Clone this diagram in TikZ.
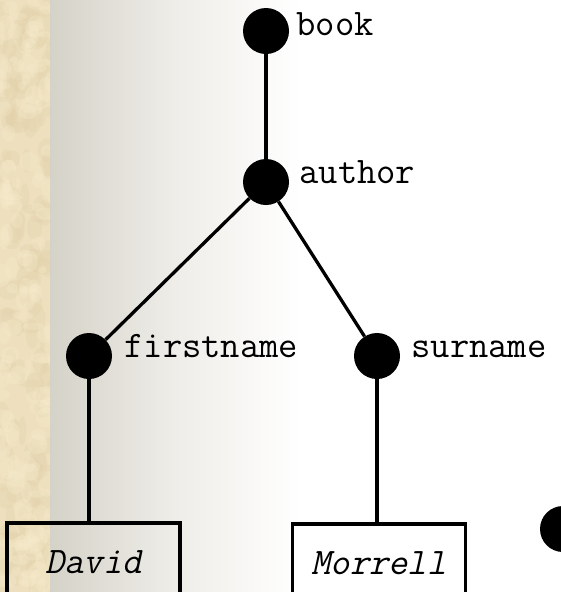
\documentclass[tikz,border=0pt]{standalone}
\usepackage{fontspec}
\newfontfamily\slmono[FakeSlant=0.22]{Latin Modern Mono}
\definecolor{parch}{RGB}{238,224,190}
\definecolor{parchdark}{RGB}{226,208,168}
\definecolor{parchlight}{RGB}{247,236,206}
\definecolor{fadegray}{RGB}{213,210,200}
\tikzset{
  elem/.style={circle, fill=black, minimum size=46pt, inner sep=0pt},
  lbl/.style={font=\ttfamily\fontsize{37.5}{37.5}\selectfont, inner sep=0pt, anchor=base west},
  valbox/.style={draw=black, line width=3.5pt, fill=none, anchor=north,
    minimum width=173pt, inner xsep=0pt, inner ysep=27pt,
    text height=24pt, text depth=30pt,
    font=\slmono\fontsize{37.5}{37.5}\selectfont},
  edge/.style={line width=3.3pt, black}
}
\begin{document}
\begin{tikzpicture}[x=1pt, y=-1pt]
\useasboundingbox (0,0) rectangle (560,592);
% page background: white with a grey fade and a parchment strip on the left
\fill[white] (0,0) rectangle (560,592);
\shade[left color=fadegray, right color=white, middle color={rgb,255:red,238;green,237;blue,232}] (50,0) rectangle (300,592);
\begin{scope}
  \clip (0,0) rectangle (50,592);
  \fill[parch] (0,0) rectangle (50,592);
  \pgfmathsetseed{17}
  \foreach \i in {1,...,160} {
    \pgfmathsetmacro\xx{rnd*50}
    \pgfmathsetmacro\yy{rnd*592}
    \pgfmathsetmacro\rx{3+rnd*9}
    \pgfmathsetmacro\ry{3+rnd*12}
    \fill[parchdark, opacity=0.25] (\xx,\yy) ellipse ({\rx pt} and {\ry pt});
  }
  \foreach \i in {1,...,140} {
    \pgfmathsetmacro\xx{rnd*50}
    \pgfmathsetmacro\yy{rnd*592}
    \pgfmathsetmacro\rx{3+rnd*8}
    \pgfmathsetmacro\ry{3+rnd*10}
    \fill[parchlight, opacity=0.3] (\xx,\yy) ellipse ({\rx pt} and {\ry pt});
  }
\end{scope}

% tree of elements
\node[elem] (book) at (266,31) {};
\node[elem] (author) at (266,182) {};
\node[elem] (first) at (89,356) {};
\node[elem] (sur) at (377,356) {};
\node[elem] (extra) at (563,529) {};

\node[lbl] (booklbl) at ([xshift=7pt,yshift=-4pt]book.east) {book};
\node[lbl] (authorlbl) at ([xshift=10pt,yshift=-1pt]author.east) {author};
\node[lbl] (firstlbl) at ([xshift=12pt,yshift=-1pt]first.east) {firstname};
\node[lbl] (surlbl) at ([xshift=11pt,yshift=-1pt]sur.east) {surname};

% text values
\node[valbox] (david) at (93.5,521) {David};
\node[valbox] (morrell) at (379,522) {Morrell};

% connectors
\draw[edge] (book) -- (author);
\draw[edge] (author) -- (first);
\draw[edge] (author) -- (sur);
\draw[edge] (first.south) -- (first.south |- david.north);
\draw[edge] (sur.south) -- (sur.south |- morrell.north);
\end{tikzpicture}
\end{document}
